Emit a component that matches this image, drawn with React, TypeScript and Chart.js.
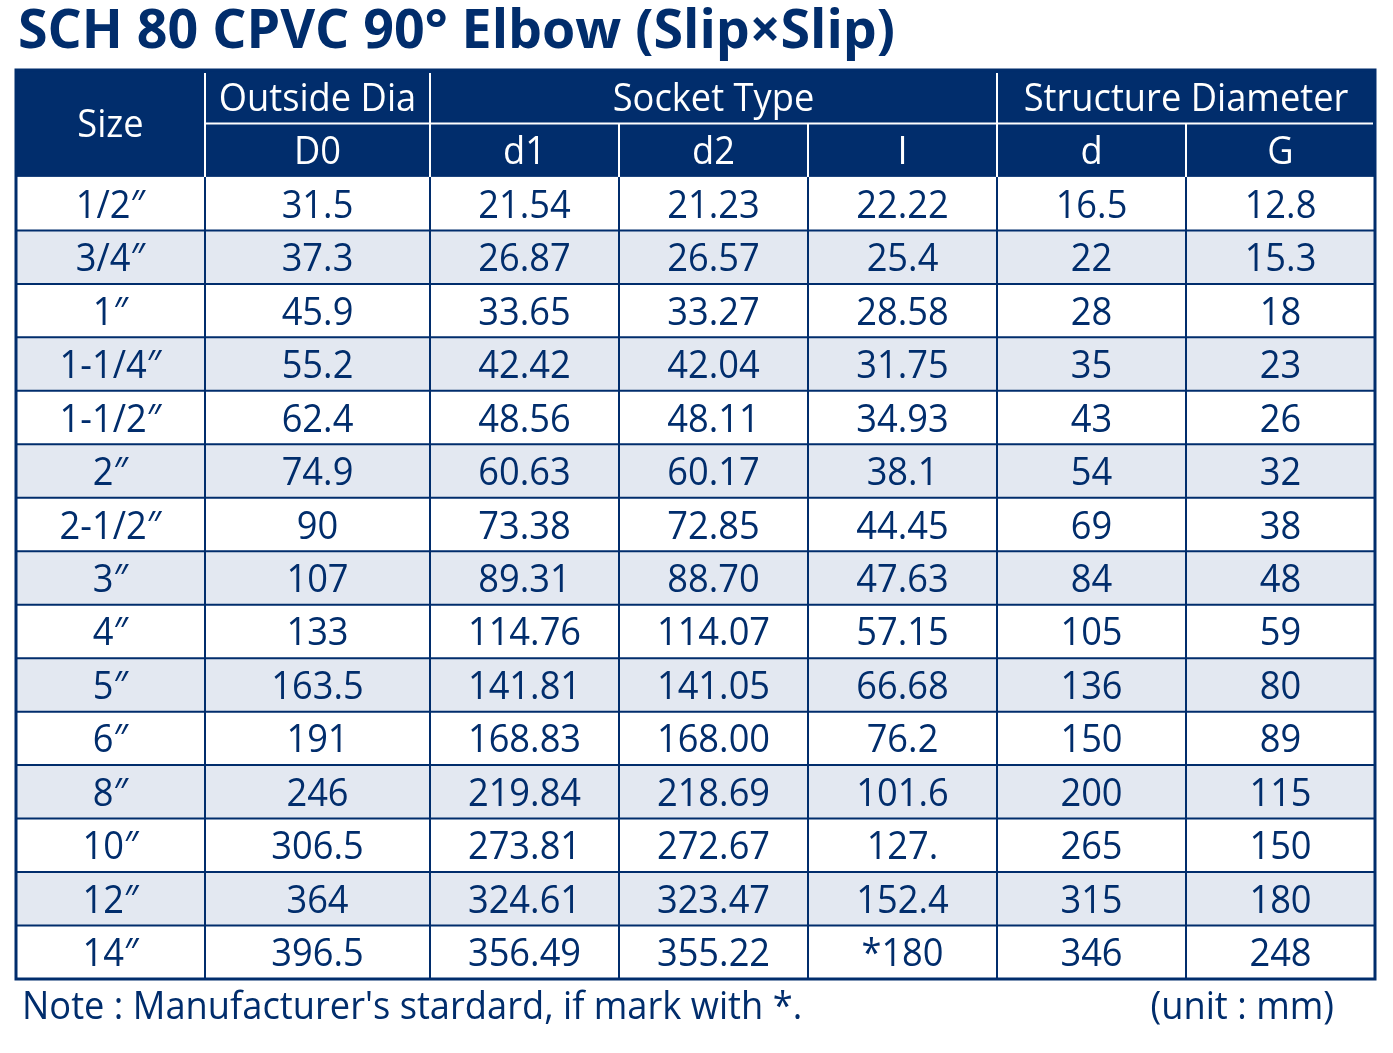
import React, { useEffect, useRef } from 'react';
import { Chart, registerables } from 'chart.js';

Chart.register(...registerables);

// ---------- data ----------
const titleText = 'SCH 80 CPVC 90° Elbow (Slip×Slip)';
const groupHeaders = ['Size', 'Outside Dia', 'Socket Type', 'Structure Diameter'];
const groupSpans = [1, 1, 3, 2];
const subHeaders = ['D0', 'd1', 'd2', 'I', 'd', 'G'];
const sizes = ['1/2″', '3/4″', '1″', '1-1/4″', '1-1/2″', '2″', '2-1/2″', '3″', '4″', '5″', '6″', '8″', '10″', '12″', '14″'];
const outsideDiaD0 = ['31.5', '37.3', '45.9', '55.2', '62.4', '74.9', '90', '107', '133', '163.5', '191', '246', '306.5', '364', '396.5'];
const socketD1 = ['21.54', '26.87', '33.65', '42.42', '48.56', '60.63', '73.38', '89.31', '114.76', '141.81', '168.83', '219.84', '273.81', '324.61', '356.49'];
const socketD2 = ['21.23', '26.57', '33.27', '42.04', '48.11', '60.17', '72.85', '88.70', '114.07', '141.05', '168.00', '218.69', '272.67', '323.47', '355.22'];
const socketL = ['22.22', '25.4', '28.58', '31.75', '34.93', '38.1', '44.45', '47.63', '57.15', '66.68', '76.2', '101.6', '127.', '152.4', '*180'];
const structD = ['16.5', '22', '28', '35', '43', '54', '69', '84', '105', '136', '150', '200', '265', '315', '346'];
const structG = ['12.8', '15.3', '18', '23', '26', '32', '38', '48', '59', '80', '89', '115', '150', '180', '248'];
const noteText = "Note : Manufacturer's stardard, if mark with *.";
const unitText = '(unit : mm)';

// ---------- layout / style ----------
const colWidths = [189, 225, 189, 189, 189, 189, 189];
const NAVY = '#012d6c';
const ALT = '#e3e8f1';
const FONT = '"Open Sans", "Noto Sans", sans-serif';
const SX = 0.93;

const colEdges: number[] = [0];
colWidths.forEach((w) => colEdges.push(colEdges[colEdges.length - 1] + w));
const HEADER_ROWS = 2;
const TOTAL_ROWS = HEADER_ROWS + sizes.length;

function drawText(ctx: CanvasRenderingContext2D, text: string, x: number, y: number, font: string, color: string, align: 'left' | 'center' | 'right', sx: number) {
  ctx.save();
  ctx.font = font;
  ctx.fillStyle = color;
  ctx.textAlign = 'left';
  ctx.textBaseline = 'alphabetic';
  const w = ctx.measureText(text).width * sx;
  const left = align === 'center' ? x - w / 2 : align === 'right' ? x - w : x;
  ctx.translate(left, y);
  ctx.scale(sx, 1);
  ctx.fillText(text, 0, 0);
  ctx.restore();
}

const tablePlugin = {
  id: 'tablePlugin',
  afterDraw(chart: any) {
    const ctx: CanvasRenderingContext2D = chart.ctx;
    const xs = chart.scales.x;
    const ys = chart.scales.y;
    const X = (v: number) => xs.getPixelForValue(v);
    const Y = (v: number) => ys.getPixelForValue(v);
    const left = X(0);
    const right = X(colEdges[colEdges.length - 1]);
    const top = Y(0);
    const bottom = Y(TOTAL_ROWS);

    // title
    ctx.save();
    const tFont = `bold 53px ${FONT}`;
    ctx.font = tFont;
    const tw = ctx.measureText(titleText).width;
    ctx.restore();
    drawText(ctx, titleText, 18, 48, tFont, NAVY, 'left', 877 / tw);

    // header background
    ctx.fillStyle = NAVY;
    ctx.fillRect(left, top, right - left, Y(HEADER_ROWS) - top);

    // data rows background
    for (let r = 0; r < sizes.length; r++) {
      ctx.fillStyle = r % 2 === 1 ? ALT : '#ffffff';
      ctx.fillRect(left, Y(HEADER_ROWS + r), right - left, Y(HEADER_ROWS + r + 1) - Y(HEADER_ROWS + r));
    }

    // data grid lines
    ctx.strokeStyle = NAVY;
    ctx.lineWidth = 2;
    for (let r = 1; r < sizes.length; r++) {
      const y = Y(HEADER_ROWS + r);
      ctx.beginPath();
      ctx.moveTo(left, y);
      ctx.lineTo(right, y);
      ctx.stroke();
    }
    for (let c = 1; c < colWidths.length; c++) {
      const x = X(colEdges[c]);
      ctx.beginPath();
      ctx.moveTo(x, Y(HEADER_ROWS));
      ctx.lineTo(x, bottom);
      ctx.stroke();
    }

    // header white lines
    ctx.strokeStyle = '#ffffff';
    ctx.lineWidth = 2;
    ctx.beginPath();
    ctx.moveTo(X(colEdges[1]), Y(1));
    ctx.lineTo(right - 2, Y(1));
    ctx.stroke();
    let gc = 0;
    const groupStarts: number[] = [];
    groupSpans.forEach((s) => { groupStarts.push(gc); gc += s; });
    for (let c = 1; c < colWidths.length; c++) {
      const x = X(colEdges[c]);
      const full = groupStarts.includes(c);
      ctx.beginPath();
      ctx.moveTo(x, full ? top + 3 : Y(1));
      ctx.lineTo(x, Y(HEADER_ROWS));
      ctx.stroke();
    }

    // outer border
    ctx.strokeStyle = NAVY;
    ctx.lineWidth = 3;
    ctx.strokeRect(left, top, right - left, bottom - top);

    const bodyFont = `39px ${FONT}`;
    const baseOff = 14;
    // group headers
    groupHeaders.forEach((h, i) => {
      const c0 = groupStarts[i];
      const c1 = c0 + groupSpans[i];
      const cx = (X(colEdges[c0]) + X(colEdges[c1])) / 2;
      const cy = i === 0 ? Y(1) : (Y(0) + Y(1)) / 2;
      drawText(ctx, h, cx, cy + baseOff, bodyFont, '#ffffff', 'center', SX);
    });
    subHeaders.forEach((h, i) => {
      const c = i + 1;
      const cx = (X(colEdges[c]) + X(colEdges[c + 1])) / 2;
      const cy = (Y(1) + Y(2)) / 2;
      drawText(ctx, h, cx, cy + baseOff, bodyFont, '#ffffff', 'center', SX);
    });

    // cell text from datasets
    chart.data.datasets.forEach((ds: any, di: number) => {
      const meta = chart.getDatasetMeta(di);
      meta.data.forEach((pt: any, j: number) => {
        drawText(ctx, ds.labels[j], pt.x, pt.y + baseOff, bodyFont, NAVY, 'center', SX);
      });
    });

    // notes
    drawText(ctx, noteText, 22, 1019, bodyFont, NAVY, 'left', SX);
    drawText(ctx, unitText, 1334, 1019, bodyFont, NAVY, 'right', SX);
  },
};

export default function App() {
  const ref = useRef<HTMLCanvasElement>(null);
  useEffect(() => {
    if (!ref.current) return;
    const columns = [sizes, outsideDiaD0, socketD1, socketD2, socketL, structD, structG];
    const datasets = columns.map((col, c) => ({
      label: `col${c}`,
      labels: col,
      data: col.map((_, r) => ({ x: (colEdges[c] + colEdges[c + 1]) / 2, y: HEADER_ROWS + r + 0.5 })),
      pointRadius: 0,
      showLine: false,
    }));
    const chart = new Chart(ref.current, {
      type: 'scatter',
      data: { datasets: datasets as any },
      options: {
        animation: false,
        responsive: false,
        devicePixelRatio: 1,
        layout: { padding: { left: 16, top: 70, right: 18, bottom: 74 } },
        plugins: { legend: { display: false }, tooltip: { enabled: false }, title: { display: false } },
        scales: {
          x: { type: 'linear', min: 0, max: colEdges[colEdges.length - 1], display: false },
          y: { type: 'linear', min: 0, max: TOTAL_ROWS, reverse: true, display: false },
        },
        events: [],
      },
      plugins: [tablePlugin],
    });
    return () => chart.destroy();
  }, []);
  return (
    <div style={{ position: 'fixed', left: 0, top: 0, width: 1393, height: 1053, background: '#ffffff' }}>
      <canvas ref={ref} width={1393} height={1053} />
    </div>
  );
}
